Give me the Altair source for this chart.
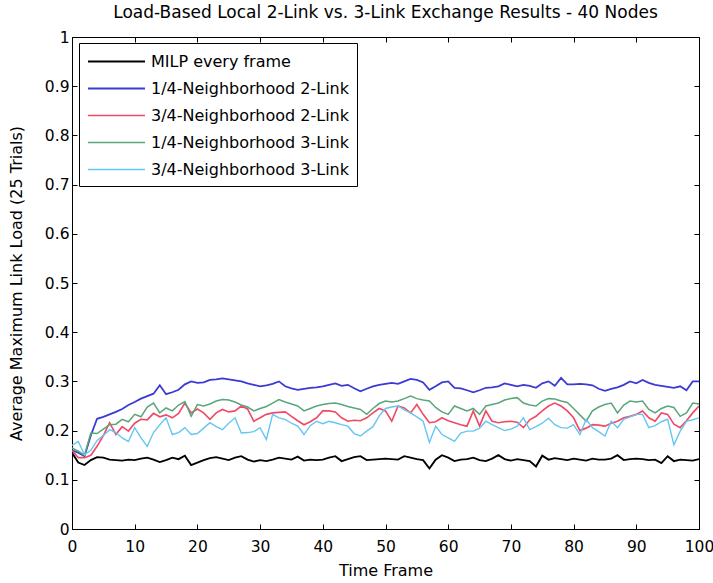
import altair as alt
import pandas as pd

frames = list(range(101))

names = [
    "MILP every frame",
    "1/4-Neighborhood 2-Link",
    "3/4-Neighborhood 2-Link",
    "1/4-Neighborhood 3-Link",
    "3/4-Neighborhood 3-Link",
]

milp = [0.155,0.135,0.130,0.140,0.146,0.145,0.141,0.140,0.139,0.141,
        0.140,0.143,0.145,0.141,0.136,0.140,0.145,0.142,0.149,0.130,
        0.135,0.140,0.144,0.146,0.143,0.140,0.145,0.148,0.141,0.137,
        0.140,0.138,0.141,0.145,0.143,0.141,0.147,0.139,0.141,0.140,
        0.141,0.145,0.148,0.138,0.142,0.146,0.148,0.140,0.141,0.142,
        0.143,0.142,0.141,0.148,0.145,0.142,0.140,0.123,0.141,0.150,
        0.145,0.138,0.141,0.142,0.145,0.140,0.138,0.143,0.150,0.142,
        0.139,0.142,0.140,0.138,0.127,0.149,0.141,0.144,0.142,0.140,
        0.143,0.141,0.139,0.143,0.141,0.141,0.143,0.150,0.140,0.142,
        0.143,0.142,0.140,0.141,0.134,0.148,0.138,0.141,0.140,0.139,
        0.142]

quarter_2link = [0.160,0.155,0.148,0.190,0.224,0.228,0.233,0.238,0.244,0.252,
        0.258,0.265,0.270,0.275,0.292,0.274,0.278,0.283,0.294,0.300,
        0.297,0.298,0.303,0.304,0.306,0.304,0.302,0.300,0.296,0.293,
        0.290,0.292,0.295,0.300,0.290,0.286,0.283,0.285,0.287,0.288,
        0.290,0.293,0.296,0.291,0.293,0.286,0.280,0.285,0.290,0.293,
        0.295,0.297,0.295,0.300,0.305,0.303,0.298,0.283,0.290,0.298,
        0.300,0.287,0.286,0.282,0.278,0.282,0.287,0.288,0.290,0.296,
        0.293,0.290,0.293,0.291,0.287,0.296,0.300,0.291,0.307,0.294,
        0.294,0.295,0.294,0.292,0.285,0.281,0.285,0.288,0.293,0.300,
        0.296,0.303,0.297,0.293,0.291,0.289,0.287,0.290,0.282,0.300,
        0.300]

threeq_2link = [0.160,0.145,0.145,0.150,0.168,0.190,0.216,0.192,0.208,0.199,
        0.215,0.223,0.222,0.235,0.228,0.232,0.226,0.235,0.256,0.236,
        0.244,0.236,0.223,0.236,0.243,0.238,0.240,0.250,0.244,0.219,
        0.226,0.233,0.236,0.237,0.238,0.229,0.220,0.212,0.218,0.226,
        0.240,0.240,0.238,0.226,0.219,0.221,0.220,0.226,0.236,0.245,
        0.240,0.219,0.250,0.246,0.236,0.253,0.233,0.216,0.218,0.226,
        0.220,0.216,0.212,0.209,0.240,0.209,0.240,0.219,0.216,0.218,
        0.219,0.217,0.206,0.222,0.229,0.240,0.250,0.256,0.250,0.240,
        0.226,0.200,0.205,0.212,0.211,0.209,0.215,0.219,0.226,0.229,
        0.233,0.240,0.226,0.219,0.236,0.233,0.213,0.206,0.220,0.236,
        0.250]

quarter_3link = [0.165,0.158,0.150,0.195,0.194,0.203,0.212,0.213,0.223,0.218,
        0.233,0.228,0.248,0.256,0.236,0.246,0.240,0.252,0.259,0.229,
        0.253,0.250,0.254,0.260,0.263,0.262,0.258,0.252,0.248,0.240,
        0.245,0.249,0.256,0.263,0.258,0.254,0.250,0.240,0.245,0.250,
        0.253,0.255,0.256,0.253,0.249,0.246,0.243,0.233,0.245,0.255,
        0.260,0.258,0.260,0.265,0.270,0.265,0.262,0.260,0.247,0.238,
        0.233,0.250,0.245,0.240,0.245,0.233,0.250,0.253,0.256,0.262,
        0.265,0.267,0.256,0.252,0.250,0.260,0.265,0.264,0.260,0.257,
        0.245,0.232,0.219,0.240,0.248,0.253,0.256,0.236,0.252,0.260,
        0.258,0.260,0.243,0.236,0.245,0.250,0.247,0.229,0.236,0.256,
        0.254]

threeq_3link = [0.170,0.178,0.151,0.160,0.180,0.190,0.202,0.196,0.185,0.178,
        0.206,0.185,0.168,0.196,0.212,0.226,0.192,0.196,0.206,0.192,
        0.194,0.205,0.216,0.208,0.202,0.215,0.226,0.195,0.196,0.198,
        0.206,0.182,0.233,0.226,0.223,0.215,0.209,0.192,0.210,0.219,
        0.214,0.219,0.216,0.212,0.209,0.194,0.189,0.199,0.208,0.230,
        0.245,0.248,0.250,0.242,0.236,0.228,0.219,0.176,0.209,0.192,
        0.185,0.178,0.195,0.199,0.199,0.205,0.219,0.212,0.206,0.200,
        0.203,0.209,0.226,0.202,0.208,0.215,0.225,0.212,0.206,0.205,
        0.212,0.192,0.223,0.206,0.198,0.189,0.219,0.206,0.223,0.228,
        0.233,0.233,0.206,0.210,0.218,0.223,0.171,0.199,0.219,0.222,
        0.226]

x_ticks = [0, 10, 20, 30, 40, 50, 60, 70, 80, 90, 100]
y_ticks = [0, 0.1, 0.2, 0.3, 0.4, 0.5, 0.6, 0.7, 0.8, 0.9, 1]

series = [milp, quarter_2link, threeq_2link, quarter_3link, threeq_3link]
colors = ["#000000", "#3a3ad4", "#f04a66", "#5aa67a", "#66c6f2"]
widths = [1.9, 1.4, 1.1, 1.0, 1.0]

rows = []
for name, vals in zip(names, series):
    for f, v in zip(frames, vals):
        rows.append({"frame": f, "load": v, "series": name})
df = pd.DataFrame(rows)

FONT = "DejaVu Sans"
inner = {"expr": "-5"}
xs = alt.Scale(domain=[0, 100], nice=False)
ys = alt.Scale(domain=[0, 1], nice=False)

lines = alt.Chart(df).mark_line(clip=True).encode(
    x=alt.X("frame:Q", scale=xs,
            axis=alt.Axis(title="Time Frame", values=x_ticks, tickSize=inner,
                          labelPadding=15, titlePadding=8, grid=False, domain=False,
                          labelFontSize=15.5, titleFontSize=16, labelFont=FONT, titleFont=FONT,
                          labelColor="#000", titleColor="#000", tickColor="#000",
                          titleFontWeight="normal", labelFlush=False)),
    y=alt.Y("load:Q", scale=ys,
            axis=alt.Axis(title="Average Maximum Link Load (25 Trials)", values=y_ticks,
                          format="~g", tickSize=inner, labelPadding=8, titlePadding=20,
                          grid=False, domain=False, labelFontSize=15.5, titleFontSize=16,
                          labelFont=FONT, titleFont=FONT, labelColor="#000",
                          titleColor="#000", tickColor="#000", titleFontWeight="normal",
                          labelFlush=False)),
    color=alt.Color("series:N", sort=names,
                    scale=alt.Scale(domain=names, range=colors),
                    legend=alt.Legend(title=None, orient="none", legendX=7, legendY=6,
                                      symbolType="M-1,0H5", symbolSize=361,
                                      symbolStrokeWidth=1.5, labelFontSize=16,
                                      labelFont=FONT, labelColor="#000", labelOffset=43,
                                      strokeColor="#000", fillColor="#fff", padding=8,
                                      rowPadding=8, labelLimit=400)),
    strokeWidth=alt.StrokeWidth("series:N", sort=names,
                                scale=alt.Scale(domain=names, range=widths), legend=None),
)

box = alt.Chart(df).mark_point(opacity=0).encode(
    x=alt.X("frame:Q", scale=xs,
            axis=alt.Axis(orient="top", values=x_ticks, labels=False, title=None,
                          tickSize=inner, grid=False, domain=False, tickColor="#000")),
    y=alt.Y("load:Q", scale=ys,
            axis=alt.Axis(orient="right", values=y_ticks, labels=False, title=None,
                          tickSize=inner, grid=False, domain=False, tickColor="#000")),
)

chart = alt.layer(lines, box).resolve_axis(x="independent", y="independent").properties(
    width=627, height=492,
    autosize=alt.AutoSizeParams(type="none"),
    padding={"left": 72, "top": 37, "right": 14, "bottom": 54},
    title=alt.TitleParams("Load-Based Local 2-Link vs. 3-Link Exchange Results - 40 Nodes",
                          fontSize=17, fontWeight="normal", font=FONT, color="#000",
                          anchor="middle", frame="group", offset=8),
    background="#ffffff",
).configure_view(stroke="#000", strokeWidth=1)

chart.save("out.html", embed_options={"renderer": "svg", "actions": False})
